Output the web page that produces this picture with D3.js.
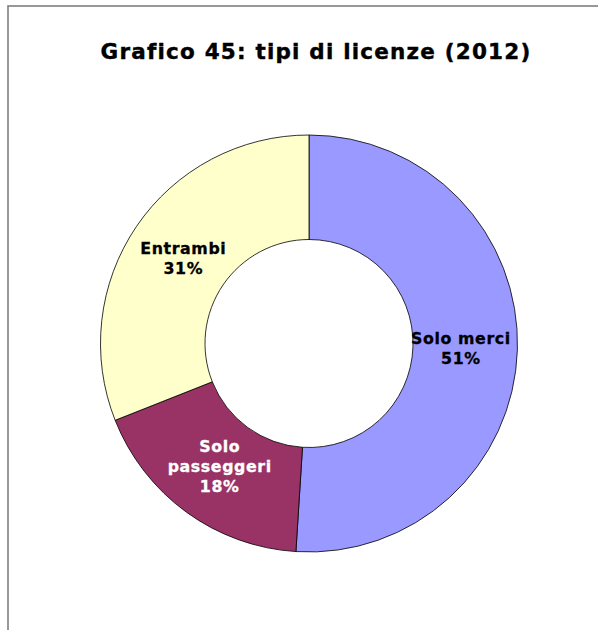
<!DOCTYPE html>
<html><head><meta charset="utf-8">
<script src="https://cdn.jsdelivr.net/npm/d3@7"></script>
<style>body{margin:0;background:#fff;}svg{display:block;}</style>
</head><body>
<script>
const categories = ["Solo merci", "Solo passeggeri", "Entrambi"];
const values = [51, 18, 31];
const colors = ["#9999FF", "#993366", "#FFFFCC"];
const labelColors = ["#000000", "#FFFFFF", "#000000"];
const labelLines = [["Solo merci", "51%"], ["Solo", "passeggeri", "18%"], ["Entrambi", "31%"]];
const title = "Grafico 45: tipi di licenze (2012)";

const W = 598, H = 630;
const svg = d3.select("body").append("svg").attr("width", W).attr("height", H);
svg.append("rect").attr("width", W).attr("height", H).attr("fill", "#fff");
svg.append("rect").attr("x", 8).attr("y", 6).attr("width", 700).attr("height", 700)
  .attr("fill", "none").attr("stroke", "#7f7f7f").attr("stroke-width", 1.6);

svg.append("text").attr("x", 316).attr("y", 58.5).attr("text-anchor", "middle")
  .attr("font-family", "DejaVu Sans, Verdana, sans-serif").attr("font-weight", "bold")
  .attr("font-size", 21.5).attr("letter-spacing", 1.2)
  .attr("fill", "#000").attr("stroke", "#000").attr("stroke-width", 0.4)
  .text(title);

const cx = 309, cy = 343.5, R = 208.5, r = 104;
const data = categories.map((c, i) => ({c, v: values[i], i}));
const pie = d3.pie().value(d => d.v).sort(null);
const arc = d3.arc().innerRadius(r).outerRadius(R);
const labelArc = d3.arc().innerRadius(152).outerRadius(152);
const g = svg.append("g").attr("transform", `translate(${cx},${cy})`);
const arcs = pie(data);
g.selectAll("path").data(arcs).join("path")
  .attr("d", arc).attr("fill", d => colors[d.data.i])
  .attr("stroke", "#000").attr("stroke-width", 0.8);

const lh = 20;
arcs.forEach(a => {
  const [x, y] = labelArc.centroid(a);
  const lines = labelLines[a.data.i];
  const t = g.append("text").attr("text-anchor", "middle")
    .attr("font-family", "DejaVu Sans, Verdana, sans-serif").attr("font-weight", "bold")
    .attr("font-size", 15.8).attr("letter-spacing", 0.6)
    .attr("fill", labelColors[a.data.i]).attr("stroke", labelColors[a.data.i]).attr("stroke-width", 0.3);
  lines.forEach((l, k) => {
    t.append("tspan").attr("x", x).attr("y", y - (lines.length - 1) * lh / 2 + 5.8 + k * lh).text(l);
  });
});
</script>
</body></html>
